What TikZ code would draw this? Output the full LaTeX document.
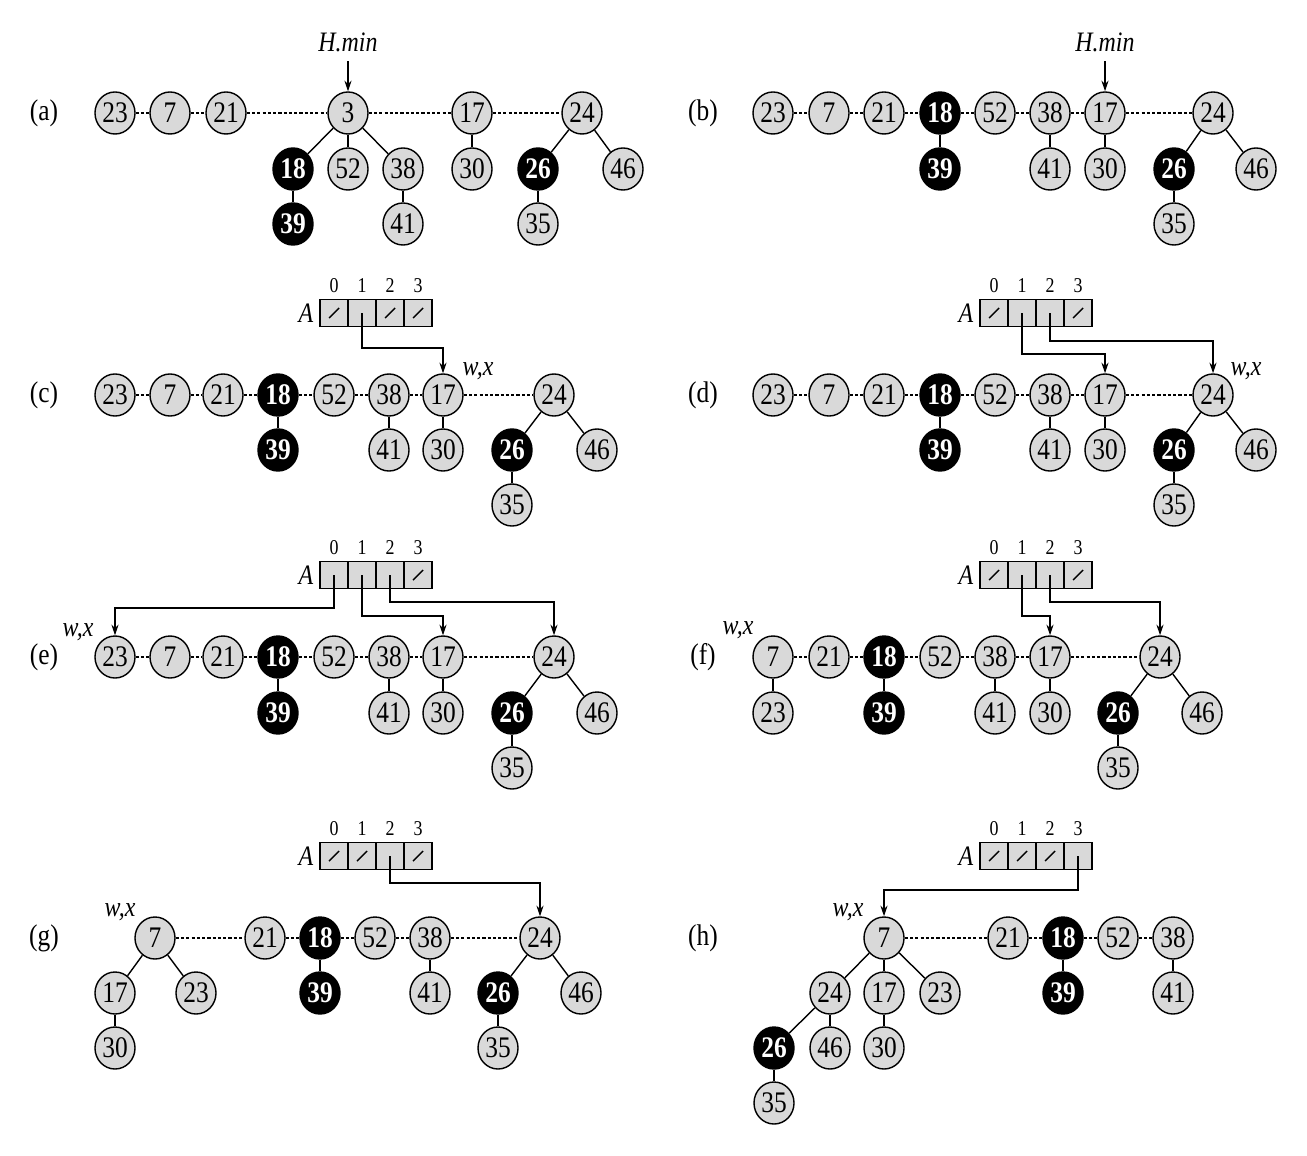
\documentclass[tikz,border=0pt]{standalone}
\usepackage{fontspec}
\setmainfont[FakeStretch=0.85]{Liberation Serif}
\usetikzlibrary{shapes.geometric,arrows.meta}
\def\wx{\textit{w,x}}
\def\hmin{\textit{H.min}}

\begin{document}
\begin{tikzpicture}[x=0.01cm,y=-0.01cm,
  key/.style={ellipse,draw,thin,fill=black!15,minimum width=0.40cm,minimum height=0.42cm,inner sep=0pt,font=\fontsize{8.5}{9}\selectfont},
  marked/.style={key,fill=black,text=white,font=\fontsize{8.5}{9}\selectfont\bfseries},
  cell/.style={draw,thin,fill=black!15,minimum width=0.28cm,minimum height=0.27cm,inner sep=0pt},
  nil/.style={cell,path picture={\draw (path picture bounding box.center) ++(-0.05cm,-0.05cm) -- ++(0.1cm,0.1cm);}},
  idx/.style={font=\fontsize{6}{7}\selectfont,inner sep=0pt},
  txt/.style={font=\fontsize{8}{9}\selectfont\itshape,inner sep=0pt},
  tag/.style={font=\fontsize{8.5}{9}\selectfont,inner sep=0pt},
  rootlist/.style={thin,dash pattern=on 0.9pt off 0.6pt},
  child/.style={thin},
  ptr/.style={thin,-{Stealth[length=3pt,width=2pt]}}]
\useasboundingbox (0,0) rectangle (1307,1155);
%
% (a)
\node [tag] at (44,113) (la) {(a)};
\node [txt,inner sep=2.5pt] at (348,42) (hma) {\hmin};
\node [key] at (115,113) (a23) {23};
\node [key] at (170,113) (a7) {7};
\node [key] at (226,113) (a21) {21};
\node [key] at (348,113) (a3) {3};
\node [key] at (472,113) (a17) {17};
\node [key] at (582,113) (a24) {24};
\node [marked] at (293,169) (a18) {18};
\node [key] at (348,169) (a52) {52};
\node [key] at (403,169) (a38) {38};
\node [key] at (472,169) (a30) {30};
\node [marked] at (538,169) (a26) {26};
\node [key] at (623,169) (a46) {46};
\node [marked] at (293,224) (a39) {39};
\node [key] at (403,224) (a41) {41};
\node [key] at (538,224) (a35) {35};
\path[rootlist] (a23) edge (a7) (a7) edge (a21) (a21) edge (a3) (a3) edge (a17) (a17) edge (a24);
\path[child] (a3) edge (a18) edge (a52) edge (a38) (a18) edge (a39) (a38) edge (a41)
  (a17) edge (a30) (a24) edge (a26) edge (a46) (a26) edge (a35);
\path[ptr] (hma) edge (a3);
%
% (b)
\node [tag] at (703,113) (lb) {(b)};
\node [txt,inner sep=2.5pt] at (1105,42) (hmb) {\hmin};
\node [key] at (773,113) (b23) {23};
\node [key] at (829,113) (b7) {7};
\node [key] at (884,113) (b21) {21};
\node [marked] at (940,113) (b18) {18};
\node [key] at (995,113) (b52) {52};
\node [key] at (1050,113) (b38) {38};
\node [key] at (1105,113) (b17) {17};
\node [key] at (1213,113) (b24) {24};
\node [marked] at (940,169) (b39) {39};
\node [key] at (1050,169) (b41) {41};
\node [key] at (1105,169) (b30) {30};
\node [marked] at (1174,169) (b26) {26};
\node [key] at (1256,169) (b46) {46};
\node [key] at (1174,224) (b35) {35};
\path[rootlist] (b23) edge (b7) (b7) edge (b21) (b21) edge (b18) (b18) edge (b52) (b52) edge (b38)
  (b38) edge (b17) (b17) edge (b24);
\path[child] (b18) edge (b39) (b38) edge (b41) (b17) edge (b30) (b24) edge (b26) edge (b46) (b26) edge (b35);
\path[ptr] (hmb) edge (b17);
%
% (c)
\node [tag] at (44,395) (lc) {(c)};
\node [key] at (115,395) (c23) {23};
\node [key] at (170,395) (c7) {7};
\node [key] at (223,395) (c21) {21};
\node [marked] at (278,395) (c18) {18};
\node [key] at (334,395) (c52) {52};
\node [key] at (389,395) (c38) {38};
\node [key] at (443,395) (c17) {17};
\node [key] at (554,395) (c24) {24};
\node [marked] at (278,450) (c39) {39};
\node [key] at (389,450) (c41) {41};
\node [key] at (443,450) (c30) {30};
\node [marked] at (512,450) (c26) {26};
\node [key] at (597,450) (c46) {46};
\node [key] at (512,505) (c35) {35};
\node [nil] at (334,313) (cA0) {};
\node [cell] at (362,313) (cA1) {};
\node [nil] at (390,313) (cA2) {};
\node [nil] at (418,313) (cA3) {};
\node [txt] at (306,313) (cA) {A};
\node [idx] at (334,286) {0}; \node [idx] at (362,286) {1}; \node [idx] at (390,286) {2}; \node [idx] at (418,286) {3};
\node [txt] at (478,371) (cwx) {\wx};
\path[rootlist] (c23) edge (c7) (c7) edge (c21) (c21) edge (c18) (c18) edge (c52) (c52) edge (c38)
  (c38) edge (c17) (c17) edge (c24);
\path[child] (c18) edge (c39) (c38) edge (c41) (c17) edge (c30) (c24) edge (c26) edge (c46) (c26) edge (c35);
\draw[ptr] (cA1.center) -- ++(0,35) -| (c17);
%
% (d)
\node [tag] at (703,395) (ld) {(d)};
\node [key] at (773,395) (d23) {23};
\node [key] at (829,395) (d7) {7};
\node [key] at (884,395) (d21) {21};
\node [marked] at (940,395) (d18) {18};
\node [key] at (995,395) (d52) {52};
\node [key] at (1050,395) (d38) {38};
\node [key] at (1105,395) (d17) {17};
\node [key] at (1213,395) (d24) {24};
\node [marked] at (940,450) (d39) {39};
\node [key] at (1050,450) (d41) {41};
\node [key] at (1105,450) (d30) {30};
\node [marked] at (1174,450) (d26) {26};
\node [key] at (1256,450) (d46) {46};
\node [key] at (1174,505) (d35) {35};
\node [nil] at (994,313) (dA0) {};
\node [cell] at (1022,313) (dA1) {};
\node [cell] at (1050,313) (dA2) {};
\node [nil] at (1078,313) (dA3) {};
\node [txt] at (966,313) (dA) {A};
\node [idx] at (994,286) {0}; \node [idx] at (1022,286) {1}; \node [idx] at (1050,286) {2}; \node [idx] at (1078,286) {3};
\node [txt] at (1246,371) (dwx) {\wx};
\path[rootlist] (d23) edge (d7) (d7) edge (d21) (d21) edge (d18) (d18) edge (d52) (d52) edge (d38)
  (d38) edge (d17) (d17) edge (d24);
\path[child] (d18) edge (d39) (d38) edge (d41) (d17) edge (d30) (d24) edge (d26) edge (d46) (d26) edge (d35);
\draw[ptr] (dA1.center) -- ++(0,41) -| (d17);
\draw[ptr] (dA2.center) -- ++(0,28) -| (d24);
%
% (e)
\node [tag] at (44,657) (le) {(e)};
\node [key] at (115,657) (e23) {23};
\node [key] at (170,657) (e7) {7};
\node [key] at (223,657) (e21) {21};
\node [marked] at (278,657) (e18) {18};
\node [key] at (334,657) (e52) {52};
\node [key] at (389,657) (e38) {38};
\node [key] at (443,657) (e17) {17};
\node [key] at (554,657) (e24) {24};
\node [marked] at (278,713) (e39) {39};
\node [key] at (389,713) (e41) {41};
\node [key] at (443,713) (e30) {30};
\node [marked] at (512,713) (e26) {26};
\node [key] at (597,713) (e46) {46};
\node [key] at (512,768) (e35) {35};
\node [cell] at (334,575) (eA0) {};
\node [cell] at (362,575) (eA1) {};
\node [cell] at (390,575) (eA2) {};
\node [nil] at (418,575) (eA3) {};
\node [txt] at (306,575) (eA) {A};
\node [idx] at (334,548) {0}; \node [idx] at (362,548) {1}; \node [idx] at (390,548) {2}; \node [idx] at (418,548) {3};
\node [txt] at (78,632) (ewx) {\wx};
\path[rootlist] (e23) edge (e7) (e7) edge (e21) (e21) edge (e18) (e18) edge (e52) (e52) edge (e38)
  (e38) edge (e17) (e17) edge (e24);
\path[child] (e18) edge (e39) (e38) edge (e41) (e17) edge (e30) (e24) edge (e26) edge (e46) (e26) edge (e35);
\draw[ptr] (eA0.center) -- ++(0,33) -| (e23);
\draw[ptr] (eA1.center) -- ++(0,41) -| (e17);
\draw[ptr] (eA2.center) -- ++(0,27) -| (e24);
%
% (f)
\node [tag] at (703,657) (lf) {(f)};
\node [key] at (773,657) (f7) {7};
\node [key] at (829,657) (f21) {21};
\node [marked] at (884,657) (f18) {18};
\node [key] at (940,657) (f52) {52};
\node [key] at (995,657) (f38) {38};
\node [key] at (1050,657) (f17) {17};
\node [key] at (1160,657) (f24) {24};
\node [key] at (773,713) (f23) {23};
\node [marked] at (884,713) (f39) {39};
\node [key] at (995,713) (f41) {41};
\node [key] at (1050,713) (f30) {30};
\node [marked] at (1118,713) (f26) {26};
\node [key] at (1202,713) (f46) {46};
\node [key] at (1118,768) (f35) {35};
\node [nil] at (994,575) (fA0) {};
\node [cell] at (1022,575) (fA1) {};
\node [cell] at (1050,575) (fA2) {};
\node [nil] at (1078,575) (fA3) {};
\node [txt] at (966,575) (fA) {A};
\node [idx] at (994,548) {0}; \node [idx] at (1022,548) {1}; \node [idx] at (1050,548) {2}; \node [idx] at (1078,548) {3};
\node [txt] at (738,630) (fwx) {\wx};
\path[rootlist] (f7) edge (f21) (f21) edge (f18) (f18) edge (f52) (f52) edge (f38)
  (f38) edge (f17) (f17) edge (f24);
\path[child] (f7) edge (f23) (f18) edge (f39) (f38) edge (f41) (f17) edge (f30) (f24) edge (f26) edge (f46) (f26) edge (f35);
\draw[ptr] (fA1.center) -- ++(0,41) -| (f17);
\draw[ptr] (fA2.center) -- ++(0,27) -| (f24);
%
% (g)
\node [tag] at (44,938) (lg) {(g)};
\node [key] at (155,938) (g7) {7};
\node [key] at (265,938) (g21) {21};
\node [marked] at (320,938) (g18) {18};
\node [key] at (375,938) (g52) {52};
\node [key] at (430,938) (g38) {38};
\node [key] at (540,938) (g24) {24};
\node [key] at (115,993) (g17) {17};
\node [key] at (196,993) (g23) {23};
\node [marked] at (320,993) (g39) {39};
\node [key] at (430,993) (g41) {41};
\node [marked] at (498,993) (g26) {26};
\node [key] at (581,993) (g46) {46};
\node [key] at (115,1048) (g30) {30};
\node [key] at (498,1048) (g35) {35};
\node [nil] at (334,856) (gA0) {};
\node [nil] at (362,856) (gA1) {};
\node [cell] at (390,856) (gA2) {};
\node [nil] at (418,856) (gA3) {};
\node [txt] at (306,856) (gA) {A};
\node [idx] at (334,829) {0}; \node [idx] at (362,829) {1}; \node [idx] at (390,829) {2}; \node [idx] at (418,829) {3};
\node [txt] at (120,912) (gwx) {\wx};
\path[rootlist] (g7) edge (g21) (g21) edge (g18) (g18) edge (g52) (g52) edge (g38) (g38) edge (g24);
\path[child] (g7) edge (g17) edge (g23) (g17) edge (g30) (g18) edge (g39) (g38) edge (g41)
  (g24) edge (g26) edge (g46) (g26) edge (g35);
\draw[ptr] (gA2.center) -- ++(0,27) -| (g24);
%
% (h)
\node [tag] at (703,938) (lh) {(h)};
\node [key] at (884,938) (h7) {7};
\node [key] at (1008,938) (h21) {21};
\node [marked] at (1063,938) (h18) {18};
\node [key] at (1118,938) (h52) {52};
\node [key] at (1173,938) (h38) {38};
\node [key] at (830,993) (h24) {24};
\node [key] at (884,993) (h17) {17};
\node [key] at (940,993) (h23) {23};
\node [marked] at (1063,993) (h39) {39};
\node [key] at (1173,993) (h41) {41};
\node [marked] at (774,1048) (h26) {26};
\node [key] at (830,1048) (h46) {46};
\node [key] at (884,1048) (h30) {30};
\node [key] at (774,1103) (h35) {35};
\node [nil] at (994,856) (hA0) {};
\node [nil] at (1022,856) (hA1) {};
\node [nil] at (1050,856) (hA2) {};
\node [cell] at (1078,856) (hA3) {};
\node [txt] at (966,856) (hA) {A};
\node [idx] at (994,829) {0}; \node [idx] at (1022,829) {1}; \node [idx] at (1050,829) {2}; \node [idx] at (1078,829) {3};
\node [txt] at (848,912) (hwx) {\wx};
\path[rootlist] (h7) edge (h21) (h21) edge (h18) (h18) edge (h52) (h52) edge (h38);
\path[child] (h7) edge (h24) edge (h17) edge (h23) (h24) edge (h26) edge (h46) (h17) edge (h30)
  (h26) edge (h35) (h18) edge (h39) (h38) edge (h41);
\draw[ptr] (hA3.center) -- ++(0,34) -| (h7);

\end{tikzpicture}
\end{document}
